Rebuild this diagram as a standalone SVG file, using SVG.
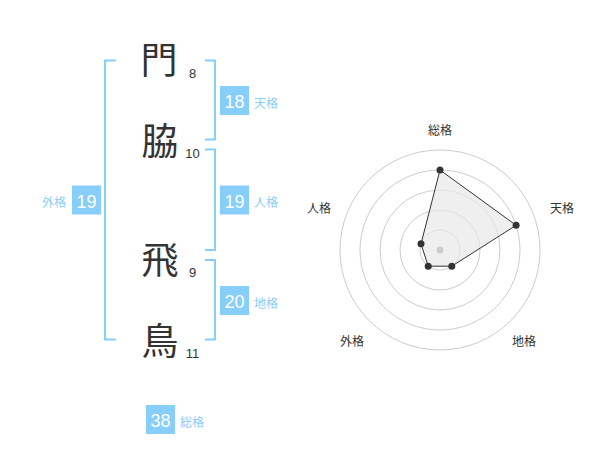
<svg xmlns="http://www.w3.org/2000/svg" width="600" height="470" viewBox="0 0 600 470">
<style>
.kanji{font-family:"Noto Sans CJK JP","Noto Sans CJK SC",sans-serif;font-size:37px;fill:#333;text-anchor:middle}
.stroke{font-family:"Liberation Sans","Noto Sans",sans-serif;font-size:13px;fill:#333;text-anchor:middle}
.box{fill:#87cefa}
.boxnum{font-family:"Liberation Sans","Noto Sans",sans-serif;font-size:18px;fill:#fff;text-anchor:middle}
.lbl{font-family:"Noto Sans CJK JP","Noto Sans CJK SC",sans-serif;font-size:12px;fill:#87cefa}
.br{fill:none;stroke:#87cefa;stroke-width:2}
.ring{fill:none;stroke:#cccccc;stroke-width:1}
.axis{font-family:"Noto Sans CJK JP","Noto Sans CJK SC",sans-serif;font-size:12px;fill:#333;text-anchor:middle}
.pt{fill:#333}
</style>
<rect width="600" height="470" fill="#fff"/>
<g id="connectors">
<path class="br" d="M116,60.5 H105 V339.5 H116"/>
<path class="br" d="M205,60.5 H215 V139.5 H205"/>
<path class="br" d="M205,149.5 H215 V250 H205"/>
<path class="br" d="M205,260 H215 V339.5 H205"/>
</g>
<g id="char1"><text class="kanji" x="159" y="74">門</text><text class="stroke" x="192.5" y="78">8</text></g>
<g id="char2"><text class="kanji" x="160" y="155">脇</text><text class="stroke" x="192.5" y="158">10</text></g>
<g id="char3"><text class="kanji" x="160" y="274">飛</text><text class="stroke" x="192.5" y="277">9</text></g>
<g id="char4"><text class="kanji" x="160" y="355">鳥</text><text class="stroke" x="192.5" y="358">11</text></g>
<g id="tenkaku"><rect class="box" x="220" y="86" width="29" height="29"/><text class="boxnum" x="234.5" y="108">18</text><text class="lbl" x="254" y="107.5">天格</text></g>
<g id="jinkaku"><rect class="box" x="220" y="185.5" width="29" height="29"/><text class="boxnum" x="234.5" y="207.5">19</text><text class="lbl" x="254" y="207">人格</text></g>
<g id="chikaku"><rect class="box" x="220" y="286" width="29" height="29"/><text class="boxnum" x="234.5" y="308">20</text><text class="lbl" x="254" y="307.5">地格</text></g>
<g id="gaikaku"><rect class="box" x="72" y="185.5" width="29" height="29"/><text class="boxnum" x="86.5" y="207.5">19</text><text class="lbl" x="66" y="207" text-anchor="end">外格</text></g>
<g id="soukaku"><rect class="box" x="146" y="405" width="29" height="29"/><text class="boxnum" x="160.5" y="427">38</text><text class="lbl" x="180" y="426.5">総格</text></g>
<g id="radar">
<circle class="ring" cx="440" cy="250" r="20"/>
<circle class="ring" cx="440" cy="250" r="40"/>
<circle class="ring" cx="440" cy="250" r="60"/>
<circle class="ring" cx="440" cy="250" r="80"/>
<circle class="ring" cx="440" cy="250" r="100"/>
<polygon points="440,170 516.1,225.3 451.8,266.2 428.2,266.2 421,243.8" fill="#e8e8e8" fill-opacity="0.7" stroke="#333" stroke-width="1"/>
<circle cx="440" cy="250" r="3.5" fill="#cccccc"/>
<circle class="pt" cx="440" cy="170" r="3.5"/>
<circle class="pt" cx="516.1" cy="225.3" r="3.5"/>
<circle class="pt" cx="451.8" cy="266.2" r="3.5"/>
<circle class="pt" cx="428.2" cy="266.2" r="3.5"/>
<circle class="pt" cx="421" cy="243.8" r="3.5"/>
<text class="axis" x="440" y="135">総格</text>
<text class="axis" x="562" y="213">天格</text>
<text class="axis" x="524" y="346">地格</text>
<text class="axis" x="352" y="346">外格</text>
<text class="axis" x="319" y="213">人格</text>
</g>
</svg>
